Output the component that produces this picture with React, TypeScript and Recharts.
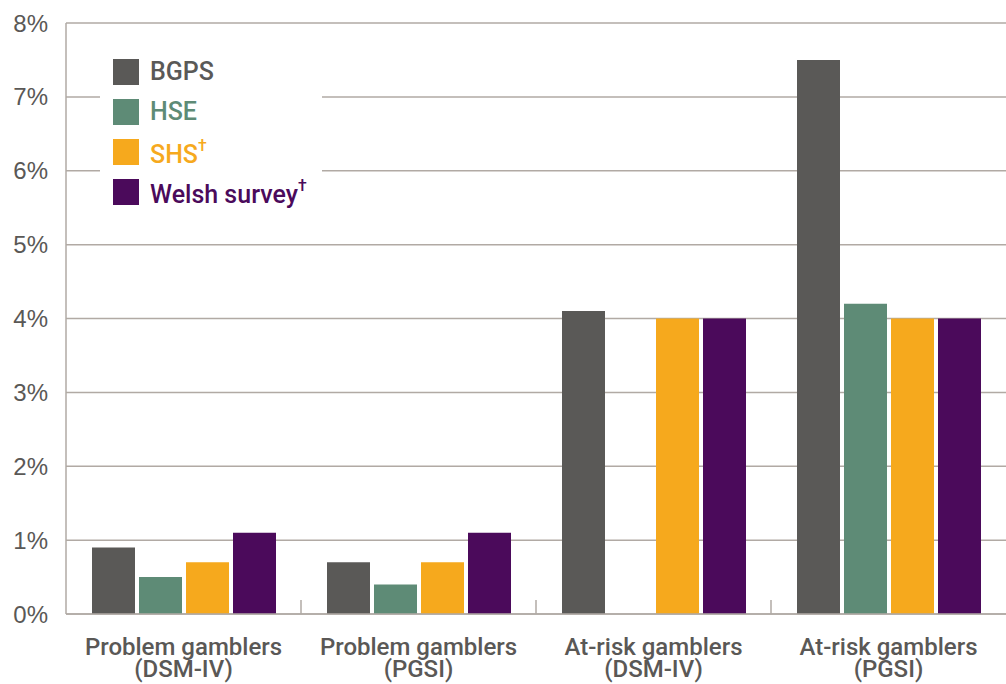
import {
  BarChart,
  Bar,
  XAxis,
  YAxis,
  CartesianGrid,
  Legend,
} from "recharts";

const categories = [
  "Problem gamblers\n(DSM-IV)",
  "Problem gamblers\n(PGSI)",
  "At-risk gamblers\n(DSM-IV)",
  "At-risk gamblers\n(PGSI)",
];
const bgps = [0.9, 0.7, 4.1, 7.5];
const hse: (number | null)[] = [0.5, 0.4, null, 4.2];
const shs = [0.7, 0.7, 4.0, 4.0];
const welsh = [1.1, 1.1, 4.0, 4.0];
const yTicks = [0, 1, 2, 3, 4, 5, 6, 7, 8];

const FONT = '"Liberation Sans", Arial, Helvetica, sans-serif';
const FONT_MED = 'Roboto, "Liberation Sans", Arial, sans-serif';
const TEXT = "#5a5856";
const GRID = "#b1aaa4";

const SERIES = [
  { key: "bgps", label: "BGPS", dagger: false, color: "#5a5957" },
  { key: "hse", label: "HSE", dagger: false, color: "#5e8b76" },
  { key: "shs", label: "SHS", dagger: true, color: "#f6a91d" },
  { key: "welsh", label: "Welsh survey", dagger: true, color: "#4b0a5b" },
];

const W = 1006;
const H = 684;
const LEFT = 66;
const BAND_HALF = (W - LEFT) / categories.length / 2;

const data = categories.map((c, i) => ({
  name: c,
  bgps: bgps[i],
  hse: hse[i],
  shs: shs[i],
  welsh: welsh[i],
}));

function CategoryTick(props: any) {
  const { x, y, payload, index } = props;
  const lines = String(payload.value).split("\n");
  return (
    <g>
      {index > 0 && (
        <line
          x1={x - BAND_HALF}
          x2={x - BAND_HALF}
          y1={y - 14}
          y2={y}
          stroke={GRID}
          strokeWidth={1.5}
        />
      )}
      {lines.map((l, i) => (
        <text
          key={i}
          x={x}
          y={y + 41 + i * 22}
          textAnchor="middle"
          fill={TEXT}
          fontSize={24}
          fontWeight={500}
          fontFamily={FONT_MED}
        >
          {l}
        </text>
      ))}
    </g>
  );
}

function LegendBox() {
  return (
    <div
      style={{
        background: "#fff",
        width: 222,
        padding: "8px 0 12px 13px",
        boxSizing: "border-box",
        fontFamily: FONT_MED,
        fontWeight: 500,
      }}
    >
      {SERIES.map((s) => (
        <div
          key={s.key}
          style={{ display: "flex", alignItems: "center", height: 40 }}
        >
          <div
            style={{
              width: 26,
              height: 26,
              background: s.color,
              marginRight: 11,
            }}
          />
          <span style={{ color: s.color, fontSize: 25, lineHeight: "26px" }}>
            {s.label}
            {s.dagger && (
              <sup style={{ fontSize: 16, position: "relative", top: -3 }}>
                †
              </sup>
            )}
          </span>
        </div>
      ))}
    </div>
  );
}

export default function App() {
  return (
    <div style={{ position: "absolute", left: 0, top: 0, width: W, height: H, background: "#fff" }}>
      <BarChart
        width={W}
        height={H}
        data={data}
        margin={{ top: 23, right: 0, bottom: 0, left: 0 }}
        barGap={4}
        barCategoryGap={26}
      >
        <CartesianGrid vertical={false} stroke={GRID} strokeWidth={1.5} />
        <XAxis
          dataKey="name"
          height={70}
          interval={0}
          tickSize={0}
          tickMargin={0}
          axisLine={{ stroke: GRID, strokeWidth: 1.5 }}
          tickLine={false}
          tick={<CategoryTick />}
        />
        <YAxis
          width={LEFT}
          domain={[0, 8]}
          ticks={yTicks}
          interval={0}
          tickSize={0}
          tickMargin={18}
          tickLine={false}
          axisLine={{ stroke: GRID, strokeWidth: 1.5 }}
          tickFormatter={(v: number) => `${v}%`}
          tick={{ fill: TEXT, fontSize: 24, fontFamily: FONT }}
        />
        <Legend
          layout="vertical"
          align="center"
          verticalAlign="middle"
          content={<LegendBox />}
          wrapperStyle={{ left: 100, top: 44, width: 222 }}
        />
        {SERIES.map((s) => (
          <Bar
            key={s.key}
            dataKey={s.key}
            fill={s.color}
            isAnimationActive={false}
          />
        ))}
      </BarChart>
    </div>
  );
}
